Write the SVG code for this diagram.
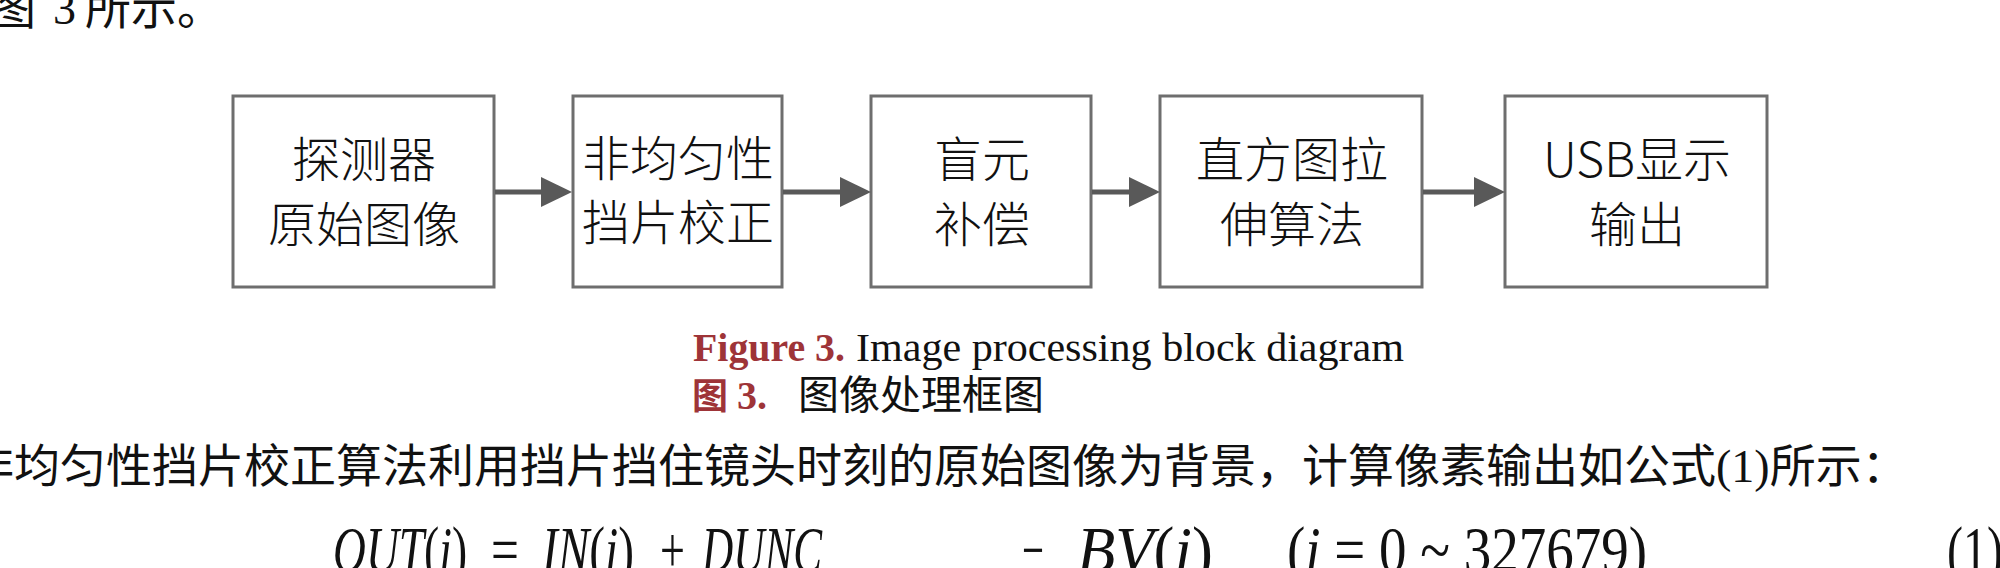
<svg xmlns="http://www.w3.org/2000/svg" width="2000" height="568" viewBox="0 0 2000 568">
<defs>
<style>
.box{fill:#ffffff;stroke:#6e6e6e;stroke-width:3}
.lbl{font-family:"Noto Sans CJK SC",sans-serif;font-size:48px;font-weight:300;fill:#111;text-anchor:middle}
.cjk{font-family:"Noto Sans CJK SC",sans-serif;fill:#111}
.ser{font-family:"Liberation Serif","Noto Sans CJK SC",serif;fill:#111}
.red{fill:#9e3438}
.eq{font-family:"Liberation Serif",serif;font-style:italic;font-size:66px;fill:#111}
.up{font-style:normal}
.conn{stroke:#595959;stroke-width:5;fill:none}
</style>
<marker id="ah" markerUnits="userSpaceOnUse" markerWidth="31" markerHeight="30" refX="1" refY="15" orient="auto">
<path d="M0,0 L31,15 L0,30 z" fill="#595959"/>
</marker>
</defs>
<rect width="2000" height="568" fill="#ffffff"/>

<!-- page text above -->
<text class="cjk" x="-10" y="24" font-size="46">图</text>
<text class="ser" x="53" y="24" font-size="46">3</text>
<text class="cjk" x="85" y="24" font-size="46">所示。</text>

<g id="n1">
<rect class="box" x="233" y="96" width="261" height="191"/>
<text class="lbl" x="364" y="177">探测器</text>
<text class="lbl" x="364" y="242">原始图像</text>
</g>
<g id="n2">
<rect class="box" x="573" y="96" width="209" height="191"/>
<text class="lbl" x="678" y="176" font-size="39">非均匀性</text>
<text class="lbl" x="678" y="240" font-size="39">挡片校正</text>
</g>
<g id="n3">
<rect class="box" x="871" y="96" width="220" height="191"/>
<text class="lbl" x="982" y="177">盲元</text>
<text class="lbl" x="982" y="242">补偿</text>
</g>
<g id="n4">
<rect class="box" x="1160" y="96" width="262" height="191"/>
<text class="lbl" x="1292" y="177">直方图拉</text>
<text class="lbl" x="1292" y="242">伸算法</text>
</g>
<g id="n5">
<rect class="box" x="1505" y="96" width="262" height="191"/>
<text class="lbl" x="1637" y="177">USB显示</text>
<text class="lbl" x="1637" y="242">输出</text>
</g>

<g id="connectors">
<line class="conn" x1="495" y1="192" x2="542" y2="192" marker-end="url(#ah)"/>
<line class="conn" x1="783" y1="192" x2="841" y2="192" marker-end="url(#ah)"/>
<line class="conn" x1="1092" y1="192" x2="1130" y2="192" marker-end="url(#ah)"/>
<line class="conn" x1="1423" y1="192" x2="1475" y2="192" marker-end="url(#ah)"/>
</g>

<!-- caption -->
<text class="ser red" x="693" y="361" font-size="41" font-weight="bold" textLength="152" lengthAdjust="spacingAndGlyphs">Figure 3.</text>
<text class="ser" x="856" y="361" font-size="41" textLength="548" lengthAdjust="spacingAndGlyphs">Image processing block diagram</text>
<text class="cjk red" x="692" y="409" font-size="36" font-weight="bold">图</text>
<text class="ser red" x="737" y="409" font-size="40" font-weight="bold">3.</text>
<text class="cjk" x="798" y="409" font-size="40" textLength="246" lengthAdjust="spacingAndGlyphs">图像处理框图</text>

<!-- body line -->
<text class="cjk" x="-32" y="482" font-size="46">非均匀性挡片校正算法利用挡片挡住镜头时刻的原始图像为背景，计算像素输出如公式<tspan class="ser">(1)</tspan>所示：</text>

<!-- equation -->
<text class="eq" transform="translate(333,572) scale(0.69,1)">OUT<tspan class="up">(</tspan>i<tspan class="up">)</tspan></text>
<text class="eq up" transform="translate(491,572) scale(0.75,1)">=</text>
<text class="eq" transform="translate(542,572) scale(0.717,1)">IN<tspan class="up">(</tspan>i<tspan class="up">)</tspan></text>
<text class="eq up" transform="translate(660,572) scale(0.67,1)">+</text>
<text class="eq" transform="translate(702,572) scale(0.655,1)">DUNC</text>
<text class="eq up" transform="translate(1022,572) scale(0.59,1)">−</text>
<text class="eq" transform="translate(1077,572) scale(0.95,1)">BV<tspan class="up">(</tspan>i<tspan class="up">)</tspan></text>
<text class="eq" transform="translate(1287,572) scale(0.833,1)"><tspan class="up">(</tspan>i<tspan class="up"> = 0 ~ 327679)</tspan></text>
<text class="eq up" transform="translate(1947,572) scale(0.727,1)">(1)</text>
</svg>
